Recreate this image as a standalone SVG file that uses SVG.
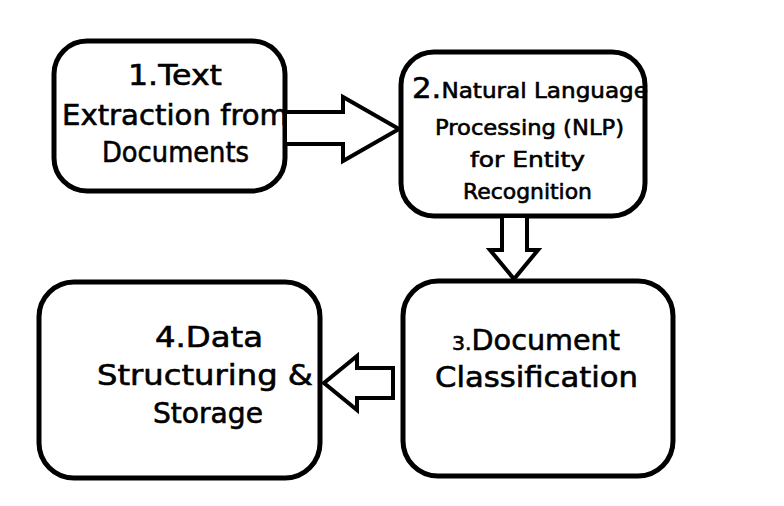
<svg xmlns="http://www.w3.org/2000/svg" width="784" height="506" viewBox="0 0 784 506">
<style>
.box{fill:#fff;stroke:#000;stroke-width:5}
.arr{fill:#fff;stroke:#000;stroke-width:4;stroke-linejoin:miter}
.t{font-family:"DejaVu Sans","Liberation Sans",sans-serif;font-size:28px;fill:#000;stroke:#000;stroke-width:0.6}
.s{font-size:21px}
.n{font-size:20px}
</style>
<rect width="784" height="506" fill="#fff"/>
<g id="node1">
<rect class="box" x="54" y="41" width="231" height="150" rx="33"/>
<text class="t" x="128" y="85" textLength="94" lengthAdjust="spacingAndGlyphs">1.Text</text>
<text class="t" x="62" y="125" textLength="226" lengthAdjust="spacingAndGlyphs">Extraction from</text>
<text class="t" x="102" y="162" textLength="147" lengthAdjust="spacingAndGlyphs">Documents</text>
</g>
<g id="node2">
<rect class="box" x="401" y="52" width="244" height="164" rx="33"/>
<text class="t" x="412" y="98" textLength="236" lengthAdjust="spacingAndGlyphs">2.<tspan class="s">Natural Language</tspan></text>
<text class="t s" x="435" y="135" textLength="189" lengthAdjust="spacingAndGlyphs">Processing (NLP)</text>
<text class="t s" x="470" y="167" textLength="115" lengthAdjust="spacingAndGlyphs">for Entity</text>
<text class="t s" x="463" y="199" textLength="129" lengthAdjust="spacingAndGlyphs">Recognition</text>
</g>
<g id="node3">
<rect class="box" x="403" y="281" width="270" height="195" rx="35"/>
<text class="t" x="452" y="350" textLength="168" lengthAdjust="spacingAndGlyphs"><tspan class="n">3.</tspan>Document</text>
<text class="t" x="435" y="387" textLength="203" lengthAdjust="spacingAndGlyphs">Classification</text>
</g>
<g id="node4">
<rect class="box" x="39" y="282" width="281" height="196" rx="35"/>
<text class="t" x="155" y="347" textLength="108" lengthAdjust="spacingAndGlyphs">4.Data</text>
<text class="t" x="97" y="385" textLength="216" lengthAdjust="spacingAndGlyphs">Structuring &amp;</text>
<text class="t" x="153" y="423" textLength="110" lengthAdjust="spacingAndGlyphs">Storage</text>
</g>
<g id="connectors">
<polygon class="arr" points="285,112 343,112 343,97 399,129 343,161 343,144 285,144"/>
<polygon class="arr" points="502,216 502,250 490,250 514,279 538,250 527,250 527,216"/>
<polygon class="arr" points="393,368 357,368 357,356 324,383 357,410 357,398 393,398"/>
</g>
</svg>
